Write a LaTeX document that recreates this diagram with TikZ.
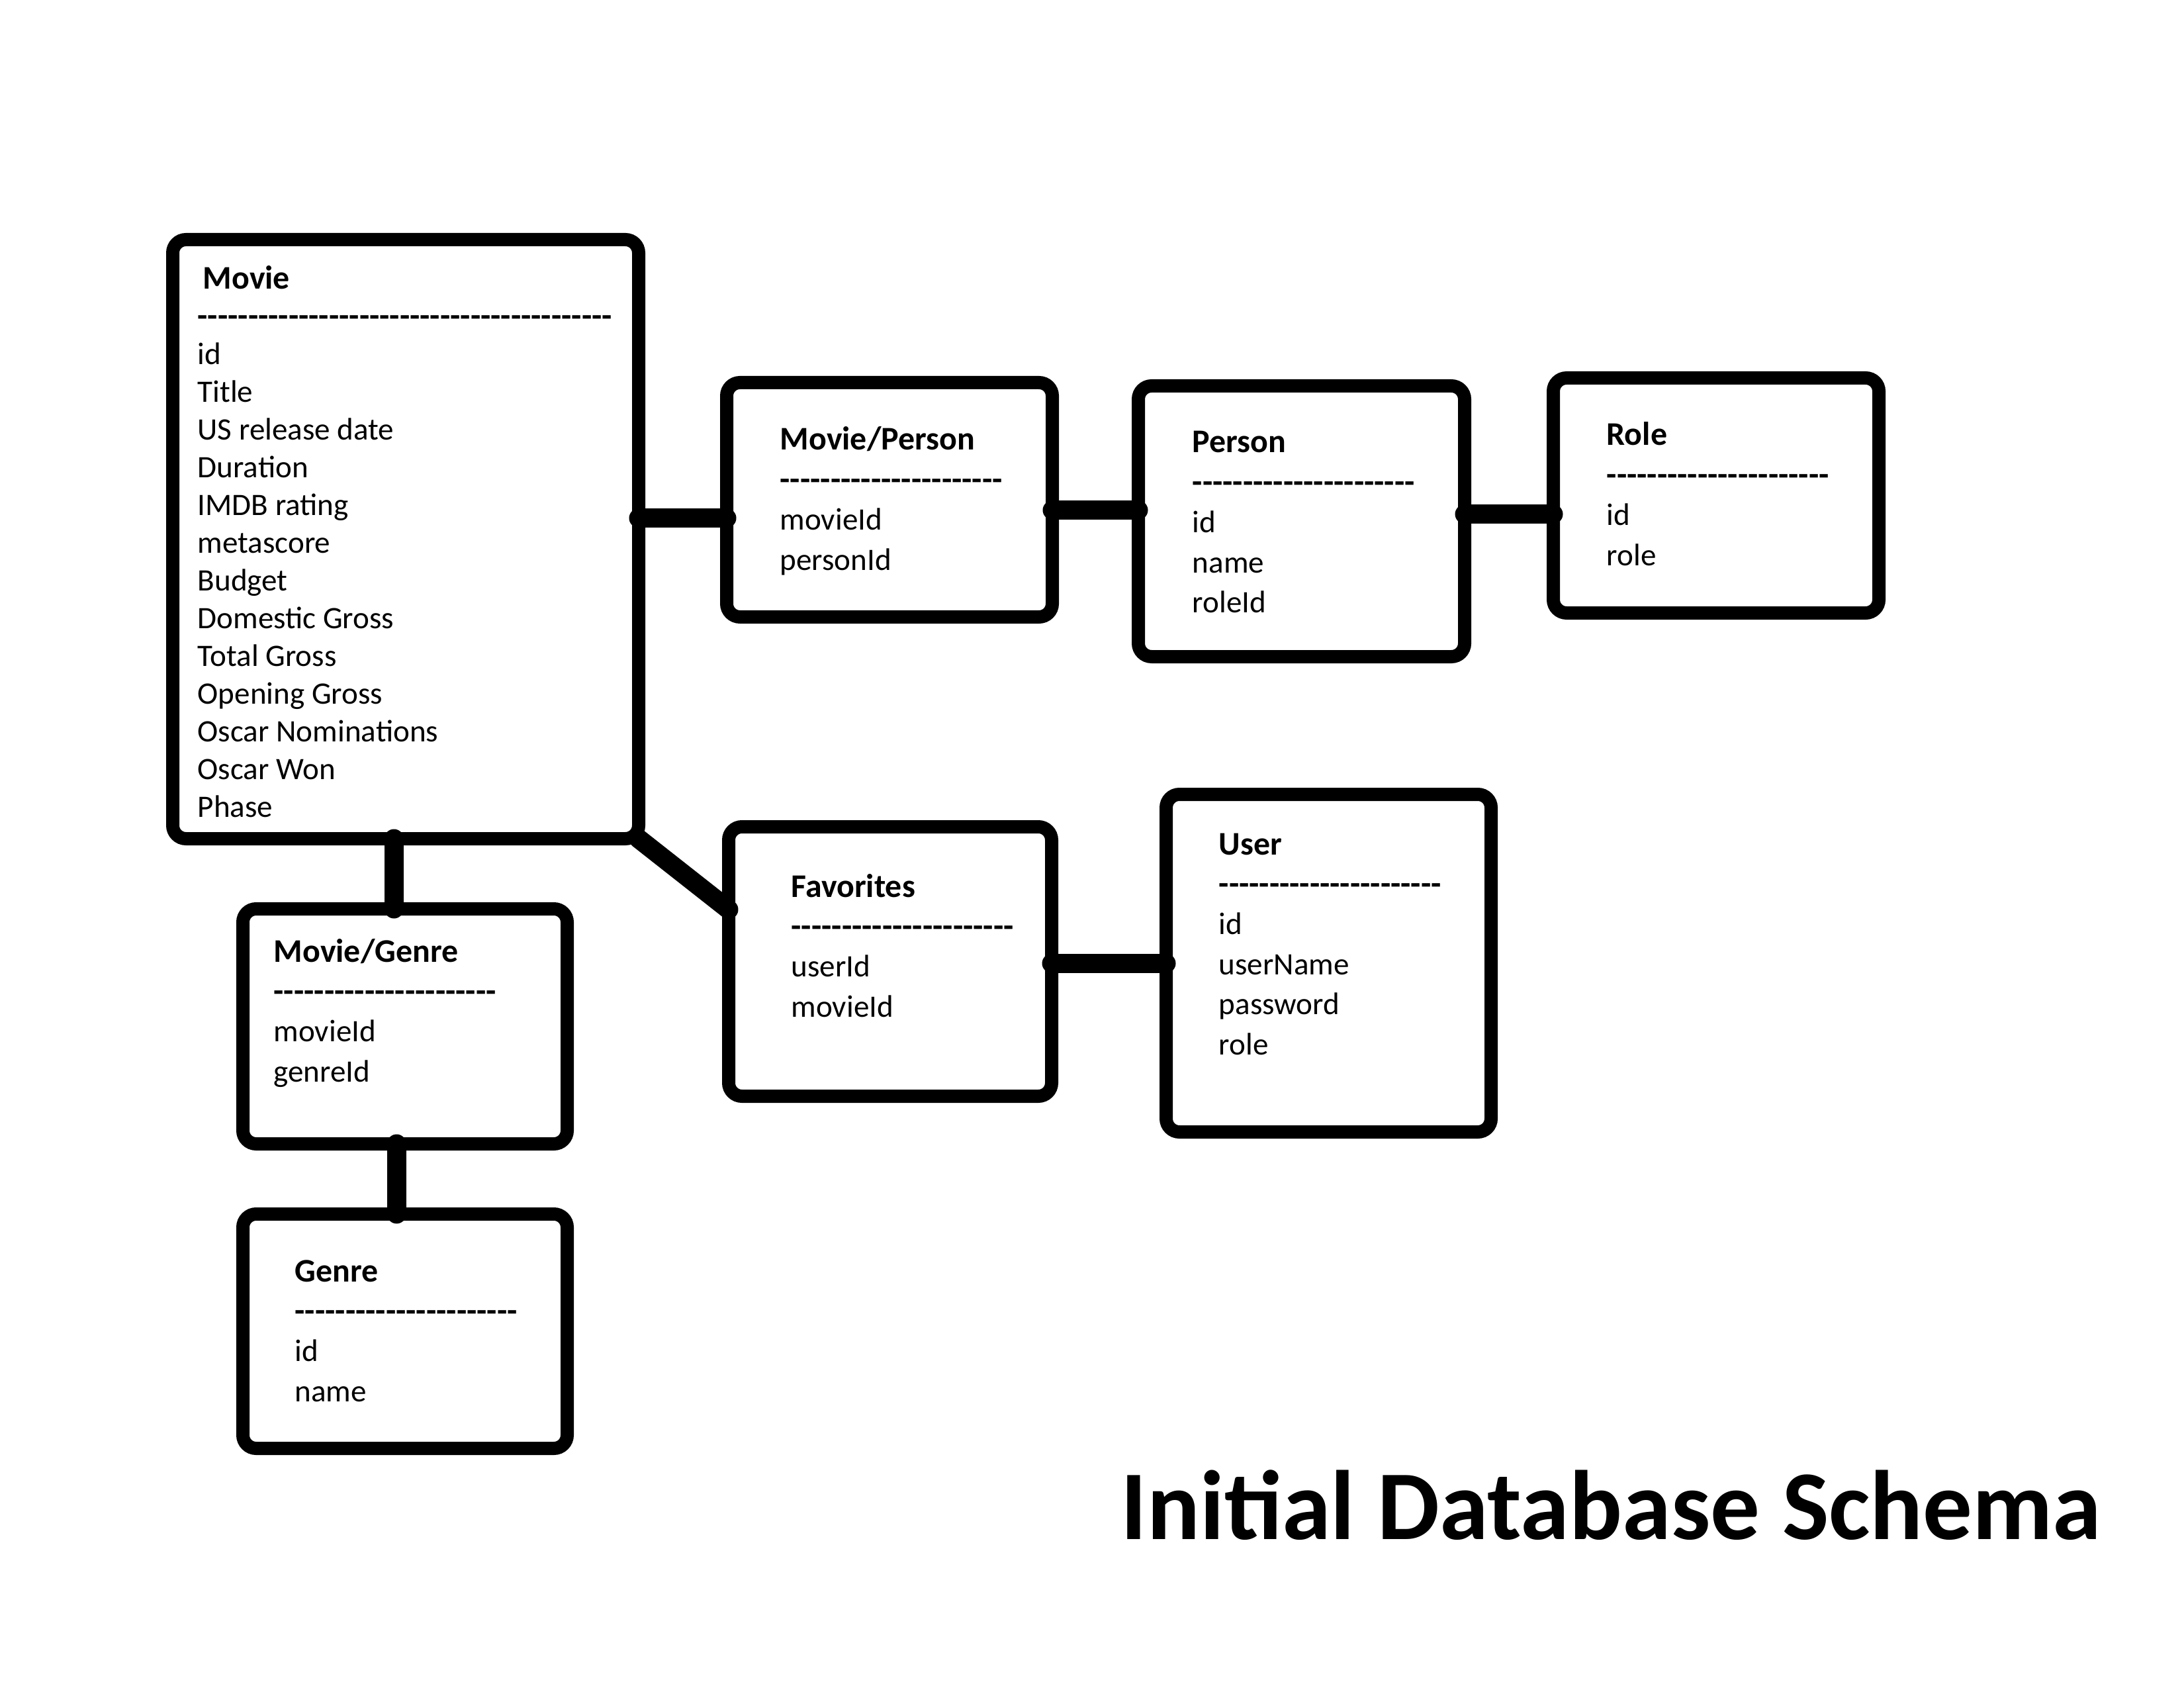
\documentclass[tikz,border=0pt]{standalone}
\usepackage{fontspec}
\setmainfont{Carlito}
\usepackage{tikz}

\newcommand{\dashrow}[1]{\foreach \k in {1,...,#1}{-\kern0pt}}
\newcommand{\tblhead}[1]{{\fontsize{14.2}{16.8}\selectfont\bfseries #1}}
\newcommand{\tblrows}[1]{\begin{tabular}[t]{@{}l@{}}#1\end{tabular}}

\begin{document}
\begin{tikzpicture}[
  tbl/.style={draw, line width=0.2cm, rounded corners=0.2cm, inner sep=0pt, outer sep=0pt},
  fields/.style={anchor=base west, inner sep=0pt, font=\fontsize{13.4}{17.2}\selectfont},
  link/.style={line width=0.29cm, line cap=round}]

\useasboundingbox (0,0) rectangle (33,-25.5);

% tables
\node[tbl, minimum width=7.04cm, minimum height=9.05cm] (movie) at (6.13,-8.145) {};
\node[tbl, minimum width=4.92cm, minimum height=3.54cm] (mp) at (13.44,-7.55) {};
\node[tbl, minimum width=4.93cm, minimum height=4.09cm] (person) at (19.665,-7.875) {};
\node[tbl, minimum width=4.92cm, minimum height=3.55cm] (role) at (25.93,-7.485) {};
\node[tbl, minimum width=4.88cm, minimum height=4.07cm] (fav) at (13.45,-14.525) {};
\node[tbl, minimum width=4.91cm, minimum height=5.10cm] (user) at (20.075,-14.55) {};
\node[tbl, minimum width=4.90cm, minimum height=3.55cm] (mg) at (6.12,-15.505) {};
\node[tbl, minimum width=4.90cm, minimum height=3.54cm] (genre) at (6.12,-20.11) {};

% fields
\node[fields, font=\fontsize{13.4}{16.2}\selectfont] (movieF) at (2.98,-4.37)
  {\tblrows{\hspace*{0.08cm}\tblhead{Movie}\\\tblhead{\dashrow{41}}\\id\\Title\\US release date\\Duration\\IMDB rating\\metascore\\Budget\\Domestic Gross\\Total Gross\\Opening Gross\\Oscar Nominations\\Oscar Won\\Phase}};
\node[fields] (mpF) at (11.78,-6.80) {\tblrows{\tblhead{Movie/Person}\\\tblhead{\dashrow{22}}\\movieId\\personId}};
\node[fields] (personF) at (18.01,-6.84) {\tblrows{\tblhead{Person}\\\tblhead{\dashrow{22}}\\id\\name\\roleId}};
\node[fields] (roleF) at (24.27,-6.73) {\tblrows{\tblhead{Role}\\\tblhead{\dashrow{22}}\\id\\role}};
\node[fields] (favF) at (11.95,-13.55) {\tblrows{\tblhead{Favorites}\\\tblhead{\dashrow{22}}\\userId\\movieId}};
\node[fields] (userF) at (18.41,-12.91) {\tblrows{\tblhead{User}\\\tblhead{\dashrow{22}}\\id\\userName\\password\\role}};
\node[fields] (mgF) at (4.13,-14.53) {\tblrows{\tblhead{Movie/Genre}\\\tblhead{\dashrow{22}}\\movieId\\genreId}};
\node[fields] (genreF) at (4.45,-19.36) {\tblrows{\tblhead{Genre}\\\tblhead{\dashrow{22}}\\id\\name}};

\node[anchor=base west, inner sep=0pt, font=\fontsize{42.4}{50}\selectfont\bfseries] (heading) at (16.93,-23.25) {Initial Database Schema};

% links
\draw[link] (movie.east |- 0,-7.83) -- (mp.west |- 0,-7.83);
\draw[link] (mp.east |- 0,-7.71) -- (person.west |- 0,-7.71);
\draw[link] (person.east |- 0,-7.77) -- (role.west |- 0,-7.77);
\draw[link] (movie.south -| 5.95,0) -- (mg.north -| 5.95,0);
\draw[link] (mg.south -| 5.99,0) -- (genre.north -| 5.99,0);
\draw[link] (movie.south east) -- (fav.west |- 0,-13.74);
\draw[link] (fav.east |- user.west) -- (user.west);

\end{tikzpicture}
\end{document}
